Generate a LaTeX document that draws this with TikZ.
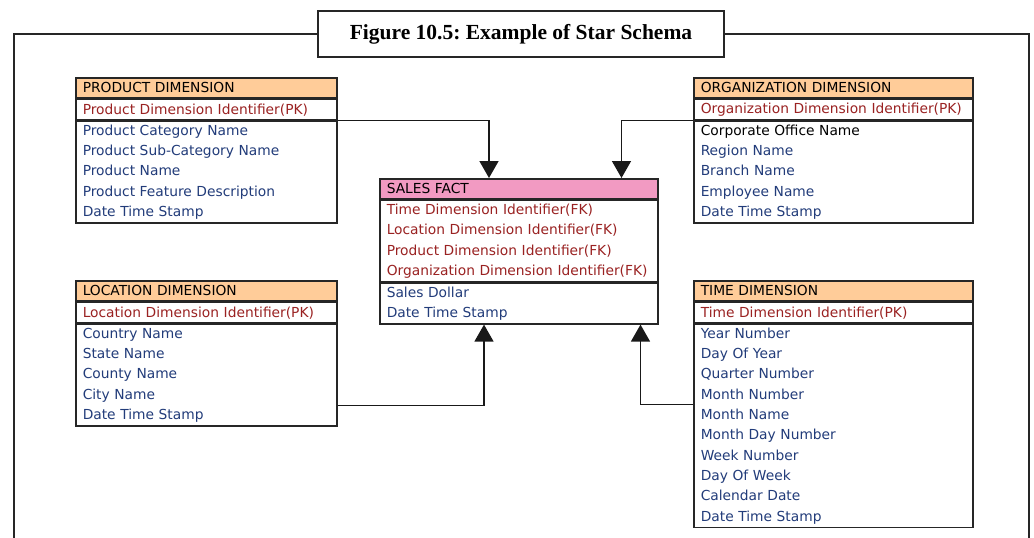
\documentclass[tikz,border=0pt]{standalone}
\usepackage{fontspec}
\setmainfont{Liberation Serif}
\newfontfamily\tblfont{DejaVu Sans}
\usetikzlibrary{positioning, arrows.meta}

\definecolor{hdrpeach}{HTML}{FFCC99}
\definecolor{hdrpink}{HTML}{F29AC2}
\definecolor{keyred}{HTML}{9A2222}
\definecolor{attrblue}{HTML}{223C7A}

\begin{document}
\begin{tikzpicture}[
  x=1pt, y=-1pt,
  >={Triangle[width=19pt, length=17pt]},
  tbl/.style={draw=black!85, line width=1.5pt, anchor=north west, inner xsep=7pt, inner ysep=0pt,
    align=left, font=\tblfont\fontsize{13.8}{20.3}\selectfont},
  rows/.style={minimum height=#1*20.3pt},
  hdr/.style={tbl, rows=1, fill=hdrpeach, text=black},
  keys/.style={tbl, fill=white, text=keyred},
  attrs/.style={tbl, fill=white, text=attrblue},
  conn/.style={->, line width=1.5pt, black!90},
  frame/.style={line width=2.2pt, black!85},
]

\useasboundingbox (0,0) rectangle (1034,538);
\clip (0,0) rectangle (1034,538);

% ---- title and surrounding frame ----
\node[draw=black!85, line width=2.2pt, fill=white, minimum width=406pt, minimum height=46pt,
  font=\bfseries\fontsize{21.5}{24}\selectfont] (title) at (521,34) {Figure 10.5:\ Example of Star Schema};
\draw[frame] (title.west) -| (14,560);
\draw[frame] (title.east) -| (1029,560);

% ============================================================
% DIMENSION TABLES
% ============================================================
% product (top-left)
\node[hdr, text width=247pt] (prodhdr) at (75,77) {PRODUCT DIMENSION};
\node[keys, text width=247pt, rows=1, below=0pt of prodhdr] (prodkey) {Product Dimension Identifier(PK)};
\node[attrs, text width=247pt, rows=5, below=0pt of prodkey] (prodattr)
  {Product Category Name\\Product Sub-Category Name\\Product Name\\Product Feature Description\\Date Time Stamp};

% organization (top-right)
\node[hdr, text width=265pt] (orghdr) at (693,77) {ORGANIZATION DIMENSION};
\node[keys, text width=265pt, rows=1, below=0pt of orghdr] (orgkey) {Organization Dimension Identifier(PK)};
\node[attrs, text width=265pt, rows=5, below=0pt of orgkey] (orgattr)
  {\textcolor{black}{Corporate Office Name}\\Region Name\\Branch Name\\Employee Name\\Date Time Stamp};

% location (bottom-left)
\node[hdr, text width=247pt] (lochdr) at (75,280) {LOCATION DIMENSION};
\node[keys, text width=247pt, rows=1, below=0pt of lochdr] (lockey) {Location Dimension Identifier(PK)};
\node[attrs, text width=247pt, rows=5, below=0pt of lockey] (locattr)
  {Country Name\\State Name\\County Name\\City Name\\Date Time Stamp};

% time (bottom-right)
\node[hdr, text width=265pt] (timehdr) at (693,280) {TIME DIMENSION};
\node[keys, text width=265pt, rows=1, below=0pt of timehdr] (timekey) {Time Dimension Identifier(PK)};
\node[attrs, text width=265pt, rows=10, below=0pt of timekey] (timeattr)
  {Year Number\\Day Of Year\\Quarter Number\\Month Number\\Month Name\\Month Day Number\\Week Number\\Day Of Week\\Calendar Date\\Date Time Stamp};

% ============================================================
% FACT TABLE (centre)
% ============================================================
\node[hdr, text width=264pt, fill=hdrpink] (saleshdr) at (379,178) {SALES FACT};
\node[keys, text width=264pt, rows=4, below=0pt of saleshdr] (saleskey)
  {Time Dimension Identifier(FK)\\Location Dimension Identifier(FK)\\Product Dimension Identifier(FK)\\Organization Dimension Identifier(FK)};
\node[attrs, text width=264pt, rows=2, below=0pt of saleskey] (salesattr)
  {Sales Dollar\\Date Time Stamp};

% ============================================================
% LINKS (dimension key -> fact)
% ============================================================
\draw[conn] (prodkey.south east) -| ([xshift=110pt]saleshdr.north west);
\draw[conn] (orgkey.south west) -| ([xshift=-37pt]saleshdr.north east);
\draw[conn] ([yshift=21pt]locattr.south east) -| ([xshift=105pt]salesattr.south west);
\draw[conn] ([yshift=-81pt]timeattr.north west) -| ([xshift=-18pt]salesattr.south east);

\end{tikzpicture}
\end{document}
